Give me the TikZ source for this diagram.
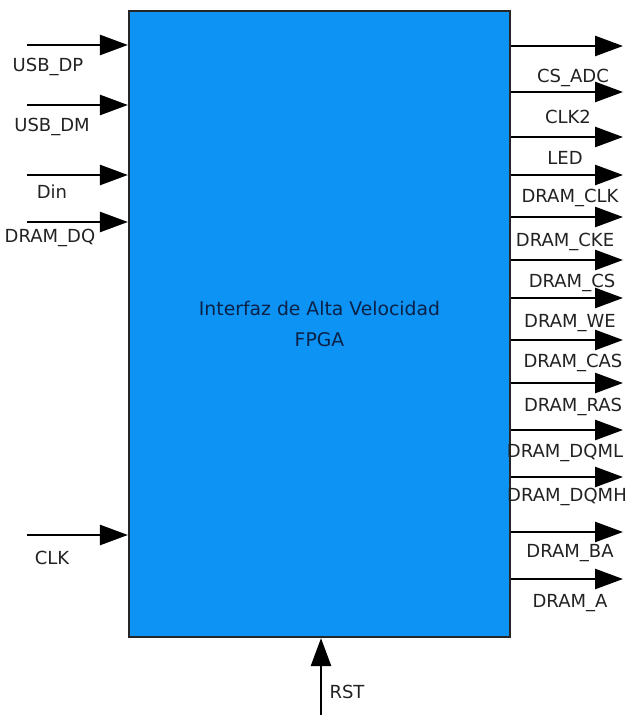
\documentclass[tikz,border=0pt]{standalone}
\usepackage{fontspec}
\setmainfont{DejaVu Sans}
\usepackage{tikz}
\usetikzlibrary{arrows.meta,positioning}
\definecolor{fpgablue}{HTML}{0C93F4}
\definecolor{fpgatext}{HTML}{0A2148}
\definecolor{lblgray}{HTML}{222222}

\begin{document}
\begin{tikzpicture}[
    x=0.5pt, y=-0.5pt,
    fpgabox/.style={draw=black!85, line width=1.1pt, fill=fpgablue,
                    minimum width=190.5pt, minimum height=313pt, inner sep=0pt,
                    align=center, font=\fontsize{9.4}{15.5}\selectfont\color{fpgatext}},
    lbl/.style={font=\fontsize{9}{10}\selectfont\color{lblgray}, inner sep=0pt},
    sig/.style={-{Triangle[length=14pt,width=10pt]}, line width=1.3pt, draw=black}
]
\useasboundingbox (0,0) rectangle (629,715);
\node[fpgabox] (fpga) at (319.5,324) {Interfaz de Alta Velocidad\\FPGA};
\foreach \n/\y/\t/\tx/\ty in {a/45/USB\_DP/48/67, b/105/USB\_DM/52/127, c/175/Din/52/192,
                              d/222/DRAM\_DQ/50/238, e/535/CLK/52/558} {
  \coordinate (in\n) at (27,\y);
  \draw[sig] (in\n) -- (in\n -| fpga.west);
  \node[lbl] (lin\n) at (\tx,\ty) {\t};
}
\foreach \n/\y/\t/\tx/\ty in {a/46/CS\_ADC/573/78, b/92/CLK2/568/117, c/137/LED/565/158,
                              d/175/DRAM\_CLK/570/198, e/217/DRAM\_CKE/565/242,
                              f/260/DRAM\_CS/572/283, g/298/DRAM\_WE/570/323,
                              h/340/DRAM\_CAS/573/363, i/383/DRAM\_RAS/573/407,
                              j/430/DRAM\_DQML/565/453, k/477/DRAM\_DQMH/567/497,
                              l/532/DRAM\_BA/570/553, m/579/DRAM\_A/570/603} {
  \coordinate (out\n) at (623,\y);
  \draw[sig] (out\n -| fpga.east) -- (out\n);
  \node[lbl] (lout\n) at (\tx,\ty) {\t};
}
\coordinate (rst) at (321,715);
\draw[sig] (rst) -- (rst |- fpga.south);
\node[lbl] (lrst) at (347,692) {RST};
\end{tikzpicture}
\end{document}
